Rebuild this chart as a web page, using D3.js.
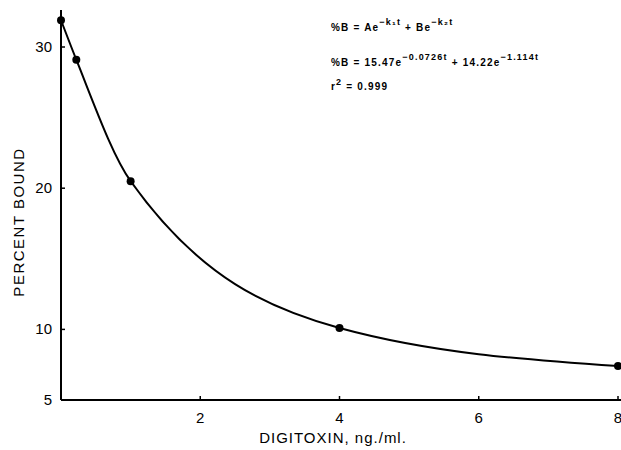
<!DOCTYPE html>
<html lang="en">
<head>
<meta charset="utf-8">
<title>Digitoxin binding</title>
<script src="https://cdn.jsdelivr.net/npm/d3@7"></script>
<style>
body { margin: 0; background: #fff; }
text { font-family: "Liberation Sans", "DejaVu Sans", sans-serif; fill: #000; }
</style>
</head>
<body>
<script>
// data
var conc = [0, 0.22, 1, 4, 8];
var bound = [31.9, 29.1, 20.5, 10.1, 7.4];
var xTicks = [2, 4, 6, 8];
var yTicks = [5, 10, 20, 30];

var w = 621, h = 450;
var svg = d3.select("body").append("svg")
  .attr("width", w)
  .attr("height", h);

var x = d3.scaleLinear().domain([0, 8]).range([61, 618]);
var y = d3.scaleLinear().domain([5, 30]).range([400, 47]);

// axes lines
svg.append("line")
  .attr("x1", 61).attr("x2", 621)
  .attr("y1", 400).attr("y2", 400)
  .attr("stroke", "#000").attr("stroke-width", 2);
svg.append("line")
  .attr("x1", 61).attr("x2", 61)
  .attr("y1", 10).attr("y2", 400)
  .attr("stroke", "#000").attr("stroke-width", 2);

// x ticks (pointing up) + labels
svg.selectAll(".xt").data(xTicks).enter().append("line")
  .attr("x1", function(d) { return x(d); })
  .attr("x2", function(d) { return x(d); })
  .attr("y1", 400).attr("y2", 396)
  .attr("stroke", "#000").attr("stroke-width", 1.5);
svg.selectAll(".xl").data(xTicks).enter().append("text")
  .attr("x", function(d) { return x(d); })
  .attr("y", 423)
  .attr("text-anchor", "middle")
  .attr("font-size", "15px")
  .text(function(d) { return d; });

// y ticks (pointing right) + labels
svg.selectAll(".yt").data(yTicks.slice(1)).enter().append("line")
  .attr("x1", 61).attr("x2", 65)
  .attr("y1", function(d) { return y(d); })
  .attr("y2", function(d) { return y(d); })
  .attr("stroke", "#000").attr("stroke-width", 1.5);
svg.selectAll(".yl").data(yTicks).enter().append("text")
  .attr("x", 52)
  .attr("y", function(d) { return y(d) + 5; })
  .attr("text-anchor", "end")
  .attr("font-size", "15px")
  .text(function(d) { return d; });

// axis titles
svg.append("text")
  .attr("x", 333).attr("y", 443)
  .attr("text-anchor", "middle")
  .attr("font-size", "15px")
  .attr("letter-spacing", "1px")
  .text("DIGITOXIN, ng./ml.");
svg.append("text")
  .attr("transform", "translate(24,222) rotate(-90)")
  .attr("text-anchor", "middle")
  .attr("font-size", "15px")
  .attr("letter-spacing", "1.5px")
  .text("PERCENT BOUND");

// curve + points
var pts = conc.map(function(c, i) { return [c, bound[i]]; });
var line = d3.line()
  .x(function(d) { return x(d[0]); })
  .y(function(d) { return y(d[1]); })
  .curve(d3.curveMonotoneX);
svg.append("path")
  .attr("d", line(pts))
  .attr("fill", "none")
  .attr("stroke", "#000")
  .attr("stroke-width", 2);
svg.selectAll("circle").data(pts).enter().append("circle")
  .attr("cx", function(d) { return x(d[0]); })
  .attr("cy", function(d) { return y(d[1]); })
  .attr("r", 4)
  .attr("fill", "#000");

// equations, top right
var eq = svg.append("g")
  .attr("font-size", "10px")
  .attr("font-weight", "bold")
  .attr("letter-spacing", "1.2px");
var t1 = eq.append("text").attr("x", 331).attr("y", 31);
t1.append("tspan").text("%B = Ae");
t1.append("tspan").attr("dy", -6).attr("font-size", "9px").text("\u2212k\u2081t");
t1.append("tspan").attr("dy", 6).text(" + Be");
t1.append("tspan").attr("dy", -6).attr("font-size", "9px").text("\u2212k\u2082t");

var t2 = eq.append("text").attr("x", 331).attr("y", 66);
t2.append("tspan").text("%B = 15.47e");
t2.append("tspan").attr("dy", -6).attr("font-size", "9px").text("\u22120.0726t");
t2.append("tspan").attr("dy", 6).text("  + 14.22e");
t2.append("tspan").attr("dy", -6).attr("font-size", "9px").text("\u22121.114t");

var t3 = eq.append("text").attr("x", 331).attr("y", 90);
t3.append("tspan").text("r");
t3.append("tspan").attr("dy", -5).attr("font-size", "9px").text("2");
t3.append("tspan").attr("dy", 5).text(" = 0.999");
</script>
</body>
</html>
